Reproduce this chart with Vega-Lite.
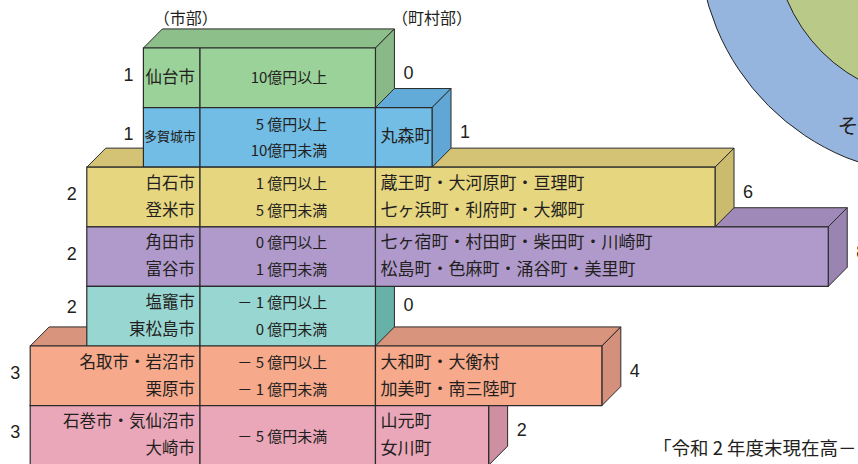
{
  "$schema": "https://vega.github.io/schema/vega-lite/v6.json",
  "width": 858,
  "height": 464,
  "autosize": {"type": "none"},
  "padding": 0,
  "background": "#ffffff",
  "config": {"view": {"stroke": null}, "text": {"font": "Noto Sans CJK JP", "color": "#231f20"}},
  "datasets": {
    "rows": [
      {"band": "g", "row": 0, "yc": 0.5, "cityLeft": -1, "cityN": 1, "townN": 0, "townEnd": 3.1},
      {"band": "b", "row": 1, "yc": 1.5, "cityLeft": -1, "cityN": 1, "townN": 1, "townEnd": 4.1},
      {"band": "y", "row": 2, "yc": 2.5, "cityLeft": -2, "cityN": 2, "townN": 6, "townEnd": 9.1},
      {"band": "p", "row": 3, "yc": 3.5, "cityLeft": -2, "cityN": 2, "townN": 8, "townEnd": 11.1},
      {"band": "t", "row": 4, "yc": 4.4, "cityLeft": -2, "cityN": 2, "townN": 0, "townEnd": 3.1},
      {"band": "s", "row": 5, "yc": 5.5, "cityLeft": -3, "cityN": 3, "townN": 4, "townEnd": 7.1},
      {"band": "k", "row": 6, "yc": 6.5, "cityLeft": -3, "cityN": 3, "townN": 2, "townEnd": 5.1}
    ],
    "labels": [
      {"band": "g", "col": "city", "y": 0.5, "t": "仙台市"},
      {"band": "b", "col": "cityNarrow", "y": 1.5, "t": "多賀城市"},
      {"band": "y", "col": "city", "y": 2.28, "t": "白石市"},
      {"band": "y", "col": "city", "y": 2.73, "t": "登米市"},
      {"band": "p", "col": "city", "y": 3.28, "t": "角田市"},
      {"band": "p", "col": "city", "y": 3.73, "t": "富谷市"},
      {"band": "t", "col": "city", "y": 4.28, "t": "塩竈市"},
      {"band": "t", "col": "city", "y": 4.73, "t": "東松島市"},
      {"band": "s", "col": "city", "y": 5.28, "t": "名取市・岩沼市"},
      {"band": "s", "col": "city", "y": 5.73, "t": "栗原市"},
      {"band": "k", "col": "city", "y": 6.28, "t": "石巻市・気仙沼市"},
      {"band": "k", "col": "city", "y": 6.73, "t": "大崎市"},
      {"band": "g", "col": "amount", "y": 0.5, "t": "10億円以上"},
      {"band": "b", "col": "amount", "y": 1.29, "t": "5 億円以上"},
      {"band": "b", "col": "amount", "y": 1.73, "t": "10億円未満"},
      {"band": "y", "col": "amount", "y": 2.28, "t": "1 億円以上"},
      {"band": "y", "col": "amount", "y": 2.73, "t": "5 億円未満"},
      {"band": "p", "col": "amount", "y": 3.28, "t": "0 億円以上"},
      {"band": "p", "col": "amount", "y": 3.73, "t": "1 億円未満"},
      {"band": "t", "col": "amount", "y": 4.28, "t": "－ 1 億円以上"},
      {"band": "t", "col": "amount", "y": 4.73, "t": "0 億円未満"},
      {"band": "s", "col": "amount", "y": 5.28, "t": "－ 5 億円以上"},
      {"band": "s", "col": "amount", "y": 5.73, "t": "－ 1 億円未満"},
      {"band": "k", "col": "amount", "y": 6.52, "t": "－ 5 億円未満"},
      {"band": "b", "col": "town", "y": 1.5, "t": "丸森町"},
      {"band": "y", "col": "town", "y": 2.28, "t": "蔵王町・大河原町・亘理町"},
      {"band": "y", "col": "town", "y": 2.73, "t": "七ヶ浜町・利府町・大郷町"},
      {"band": "p", "col": "town", "y": 3.28, "t": "七ヶ宿町・村田町・柴田町・川崎町"},
      {"band": "p", "col": "town", "y": 3.73, "t": "松島町・色麻町・涌谷町・美里町"},
      {"band": "s", "col": "town", "y": 5.28, "t": "大和町・大衡村"},
      {"band": "s", "col": "town", "y": 5.73, "t": "加美町・南三陸町"},
      {"band": "k", "col": "town", "y": 6.28, "t": "山元町"},
      {"band": "k", "col": "town", "y": 6.73, "t": "女川町"}
    ],
    "cells": [
      {"band": "g", "part": "city", "x0": -1, "x1": 0, "y0": 0, "y1": 1},
      {"band": "g", "part": "amount", "x0": 0, "x1": 3.1, "y0": 0, "y1": 1},
      {"band": "b", "part": "city", "x0": -1, "x1": 0, "y0": 1, "y1": 2},
      {"band": "b", "part": "amount", "x0": 0, "x1": 3.1, "y0": 1, "y1": 2},
      {"band": "b", "part": "town", "x0": 3.1, "x1": 4.1, "y0": 1, "y1": 2},
      {"band": "y", "part": "city", "x0": -2, "x1": 0, "y0": 2, "y1": 3},
      {"band": "y", "part": "amount", "x0": 0, "x1": 3.1, "y0": 2, "y1": 3},
      {"band": "y", "part": "town", "x0": 3.1, "x1": 9.1, "y0": 2, "y1": 3},
      {"band": "p", "part": "city", "x0": -2, "x1": 0, "y0": 3, "y1": 4},
      {"band": "p", "part": "amount", "x0": 0, "x1": 3.1, "y0": 3, "y1": 4},
      {"band": "p", "part": "town", "x0": 3.1, "x1": 11.1, "y0": 3, "y1": 4},
      {"band": "t", "part": "city", "x0": -2, "x1": 0, "y0": 4, "y1": 5},
      {"band": "t", "part": "amount", "x0": 0, "x1": 3.1, "y0": 4, "y1": 5},
      {"band": "s", "part": "city", "x0": -3, "x1": 0, "y0": 5, "y1": 6},
      {"band": "s", "part": "amount", "x0": 0, "x1": 3.1, "y0": 5, "y1": 6},
      {"band": "s", "part": "town", "x0": 3.1, "x1": 7.1, "y0": 5, "y1": 6},
      {"band": "k", "part": "city", "x0": -3, "x1": 0, "y0": 6, "y1": 7},
      {"band": "k", "part": "amount", "x0": 0, "x1": 3.1, "y0": 6, "y1": 7},
      {"band": "k", "part": "town", "x0": 3.1, "x1": 5.1, "y0": 6, "y1": 7}
    ],
    "tops": [
      {"band": "g", "y": 0, "x": -1, "x2": 3.1}, {"band": "g", "y": -0.32, "x": -0.665, "x2": 3.435},
      {"band": "b", "y": 1, "x": -1, "x2": 4.1}, {"band": "b", "y": 0.68, "x": -0.665, "x2": 4.435},
      {"band": "y", "y": 2, "x": -2, "x2": 9.1}, {"band": "y", "y": 1.68, "x": -1.665, "x2": 9.435},
      {"band": "p", "y": 3, "x": -2, "x2": 11.1}, {"band": "p", "y": 2.68, "x": -1.665, "x2": 11.435},
      {"band": "t", "y": 4, "x": -2, "x2": 3.1}, {"band": "t", "y": 3.68, "x": -1.665, "x2": 3.435},
      {"band": "s", "y": 5, "x": -3, "x2": 7.1}, {"band": "s", "y": 4.68, "x": -2.665, "x2": 7.435},
      {"band": "k", "y": 6, "x": -3, "x2": 5.1}, {"band": "k", "y": 5.68, "x": -2.665, "x2": 5.435}
    ],
    "sides": [
      {"band": "g", "x": 3.1, "y": 0, "y2": 1}, {"band": "g", "x": 3.435, "y": -0.32, "y2": 0.68},
      {"band": "b", "x": 4.1, "y": 1, "y2": 2}, {"band": "b", "x": 4.435, "y": 0.68, "y2": 1.68},
      {"band": "y", "x": 9.1, "y": 2, "y2": 3}, {"band": "y", "x": 9.435, "y": 1.68, "y2": 2.68},
      {"band": "p", "x": 11.1, "y": 3, "y2": 4}, {"band": "p", "x": 11.435, "y": 2.68, "y2": 3.68},
      {"band": "t", "x": 3.1, "y": 4, "y2": 5}, {"band": "t", "x": 3.435, "y": 3.68, "y2": 4.68},
      {"band": "s", "x": 7.1, "y": 5, "y2": 6}, {"band": "s", "x": 7.435, "y": 4.68, "y2": 5.68},
      {"band": "k", "x": 5.1, "y": 6, "y2": 7}, {"band": "k", "x": 5.435, "y": 5.68, "y2": 6.68}
    ]
  },
  "resolve": {"scale": {"fill": "independent"}},
  "layer": [
    {
      "data": {"values": [{"ring": "outer", "cx": 13.026, "cy": -1.867}]},
      "mark": {"type": "point", "shape": "circle", "filled": true, "size": 228100, "fill": "#95b4de", "stroke": "#222222", "strokeWidth": 1, "opacity": 1},
      "encoding": {
        "x": {"field": "cx", "type": "quantitative", "axis": null, "scale": {"domain": [-3.5336, 11.6254], "nice": false, "zero": false}},
        "y": {"field": "cy", "type": "quantitative", "axis": null, "scale": {"domain": [-0.8054, 6.9799], "nice": false, "zero": false, "reverse": true}}
      }
    },
    {
      "data": {"values": [{"ring": "inner", "cx": 13.026, "cy": -1.867}]},
      "mark": {"type": "point", "shape": "circle", "filled": true, "size": 106300, "fill": "#b9c988", "stroke": "#222222", "strokeWidth": 1, "opacity": 1},
      "encoding": {
        "x": {"field": "cx", "type": "quantitative", "axis": null, "scale": {"domain": [-3.5336, 11.6254], "nice": false, "zero": false}},
        "y": {"field": "cy", "type": "quantitative", "axis": null, "scale": {"domain": [-0.8054, 6.9799], "nice": false, "zero": false, "reverse": true}}
      }
    },
    {
      "data": {"values": [{"t": "そ", "x": 11.45, "y": 1.33}]},
      "mark": {"type": "text", "fontSize": 21, "align": "center", "baseline": "middle"},
      "encoding": {
        "x": {"field": "x", "type": "quantitative", "axis": null, "scale": {"domain": [-3.5336, 11.6254], "nice": false, "zero": false}},
        "y": {"field": "y", "type": "quantitative", "axis": null, "scale": {"domain": [-0.8054, 6.9799], "nice": false, "zero": false, "reverse": true}},
        "text": {"field": "t"}
      }
    },
    {
      "data": {"name": "tops"},
      "mark": {"type": "area", "orient": "horizontal", "stroke": "#2b2b2b", "strokeWidth": 1, "opacity": 1},
      "encoding": {
        "y": {"field": "y", "type": "quantitative", "axis": null, "scale": {"domain": [-0.8054, 6.9799], "nice": false, "zero": false, "reverse": true}},
        "x": {"field": "x", "type": "quantitative", "axis": null, "stack": null, "scale": {"domain": [-3.5336, 11.6254], "nice": false, "zero": false}},
        "x2": {"field": "x2"},
        "detail": {"field": "band"},
        "fill": {"field": "band", "type": "nominal", "legend": null, "scale": {"domain": ["g", "b", "y", "p", "t", "s", "k"], "range": ["#8cbf8a", "#62aad8", "#d4c374", "#9f89b8", "#86c4bf", "#d9947e", "#d392a6"]}}
      }
    },
    {
      "data": {"name": "sides"},
      "mark": {"type": "area", "orient": "vertical", "stroke": "#2b2b2b", "strokeWidth": 1, "opacity": 1},
      "encoding": {
        "x": {"field": "x", "type": "quantitative", "axis": null, "scale": {"domain": [-3.5336, 11.6254], "nice": false, "zero": false}},
        "y": {"field": "y", "type": "quantitative", "axis": null, "stack": null, "scale": {"domain": [-0.8054, 6.9799], "nice": false, "zero": false, "reverse": true}},
        "y2": {"field": "y2"},
        "detail": {"field": "band"},
        "fill": {"field": "band", "type": "nominal", "legend": null, "scale": {"domain": ["g", "b", "y", "p", "t", "s", "k"], "range": ["#88b986", "#60a7d5", "#cbbb6e", "#9a84b2", "#67b2a8", "#d4907a", "#cf8fa2"]}}
      }
    },
    {
      "data": {"name": "cells"},
      "mark": {"type": "rect", "stroke": "#2b2b2b", "strokeWidth": 1.2},
      "encoding": {
        "x": {"field": "x0", "type": "quantitative", "axis": null, "scale": {"domain": [-3.5336, 11.6254], "nice": false, "zero": false}},
        "x2": {"field": "x1"},
        "y": {"field": "y0", "type": "quantitative", "axis": null, "scale": {"domain": [-0.8054, 6.9799], "nice": false, "zero": false, "reverse": true}},
        "y2": {"field": "y1"},
        "fill": {"field": "band", "type": "nominal", "legend": null, "scale": {"domain": ["g", "b", "y", "p", "t", "s", "k"], "range": ["#9bd29a", "#72bde6", "#e6d680", "#b09acb", "#98d6d2", "#f6a98b", "#e9a7b9"]}}
      }
    },
    {
      "data": {"name": "labels"},
      "transform": [{"filter": "datum.col === 'city'"}],
      "mark": {"type": "text", "fontSize": 16.5, "align": "right", "baseline": "middle", "dx": -5},
      "encoding": {
        "x": {"datum": 0, "type": "quantitative", "axis": null, "scale": {"domain": [-3.5336, 11.6254], "nice": false, "zero": false}},
        "y": {"field": "y", "type": "quantitative", "axis": null, "scale": {"domain": [-0.8054, 6.9799], "nice": false, "zero": false, "reverse": true}},
        "text": {"field": "t", "type": "nominal"}
      }
    },
    {
      "data": {"name": "labels"},
      "transform": [{"filter": "datum.col === 'cityNarrow'"}],
      "mark": {"type": "text", "fontSize": 13, "align": "right", "baseline": "middle", "dx": -4},
      "encoding": {
        "x": {"datum": 0, "type": "quantitative", "axis": null, "scale": {"domain": [-3.5336, 11.6254], "nice": false, "zero": false}},
        "y": {"field": "y", "type": "quantitative", "axis": null, "scale": {"domain": [-0.8054, 6.9799], "nice": false, "zero": false, "reverse": true}},
        "text": {"field": "t", "type": "nominal"}
      }
    },
    {
      "data": {"name": "labels"},
      "transform": [{"filter": "datum.col === 'amount'"}],
      "mark": {"type": "text", "fontSize": 15, "align": "right", "baseline": "middle"},
      "encoding": {
        "x": {"datum": 2.25, "type": "quantitative", "axis": null, "scale": {"domain": [-3.5336, 11.6254], "nice": false, "zero": false}},
        "y": {"field": "y", "type": "quantitative", "axis": null, "scale": {"domain": [-0.8054, 6.9799], "nice": false, "zero": false, "reverse": true}},
        "text": {"field": "t", "type": "nominal"}
      }
    },
    {
      "data": {"name": "labels"},
      "transform": [{"filter": "datum.col === 'town'"}],
      "mark": {"type": "text", "fontSize": 17, "align": "left", "baseline": "middle", "dx": 5},
      "encoding": {
        "x": {"datum": 3.1, "type": "quantitative", "axis": null, "scale": {"domain": [-3.5336, 11.6254], "nice": false, "zero": false}},
        "y": {"field": "y", "type": "quantitative", "axis": null, "scale": {"domain": [-0.8054, 6.9799], "nice": false, "zero": false, "reverse": true}},
        "text": {"field": "t", "type": "nominal"}
      }
    },
    {
      "data": {"name": "rows"},
      "mark": {"type": "text", "font": "Liberation Sans", "fontSize": 18, "align": "right", "baseline": "middle", "dx": -10, "dy": -2},
      "encoding": {
        "x": {"field": "cityLeft", "type": "quantitative", "axis": null, "scale": {"domain": [-3.5336, 11.6254], "nice": false, "zero": false}},
        "y": {"field": "yc", "type": "quantitative", "axis": null, "scale": {"domain": [-0.8054, 6.9799], "nice": false, "zero": false, "reverse": true}},
        "text": {"field": "cityN", "type": "nominal"}
      }
    },
    {
      "data": {"name": "rows"},
      "mark": {"type": "text", "font": "Liberation Sans", "fontSize": 18, "align": "left", "baseline": "middle", "dx": 28, "dy": -4},
      "encoding": {
        "x": {"field": "townEnd", "type": "quantitative", "axis": null, "scale": {"domain": [-3.5336, 11.6254], "nice": false, "zero": false}},
        "y": {"field": "yc", "type": "quantitative", "axis": null, "scale": {"domain": [-0.8054, 6.9799], "nice": false, "zero": false, "reverse": true}},
        "text": {"field": "townN", "type": "nominal"}
      }
    },
    {
      "data": {"values": [{"t": "（市部）", "x": -0.25, "y": -0.49}, {"t": "（町村部）", "x": 4.1, "y": -0.49}]},
      "mark": {"type": "text", "fontSize": 16, "align": "center", "baseline": "middle"},
      "encoding": {
        "x": {"field": "x", "type": "quantitative", "axis": null, "scale": {"domain": [-3.5336, 11.6254], "nice": false, "zero": false}},
        "y": {"field": "y", "type": "quantitative", "axis": null, "scale": {"domain": [-0.8054, 6.9799], "nice": false, "zero": false, "reverse": true}},
        "text": {"field": "t"}
      }
    },
    {
      "data": {"values": [{"t": "「令和 2 年度末現在高－", "x": 8.004, "y": 6.73}]},
      "mark": {"type": "text", "fontSize": 18.5, "align": "left", "baseline": "middle"},
      "encoding": {
        "x": {"field": "x", "type": "quantitative", "axis": null, "scale": {"domain": [-3.5336, 11.6254], "nice": false, "zero": false}},
        "y": {"field": "y", "type": "quantitative", "axis": null, "scale": {"domain": [-0.8054, 6.9799], "nice": false, "zero": false, "reverse": true}},
        "text": {"field": "t"}
      }
    }
  ]
}
